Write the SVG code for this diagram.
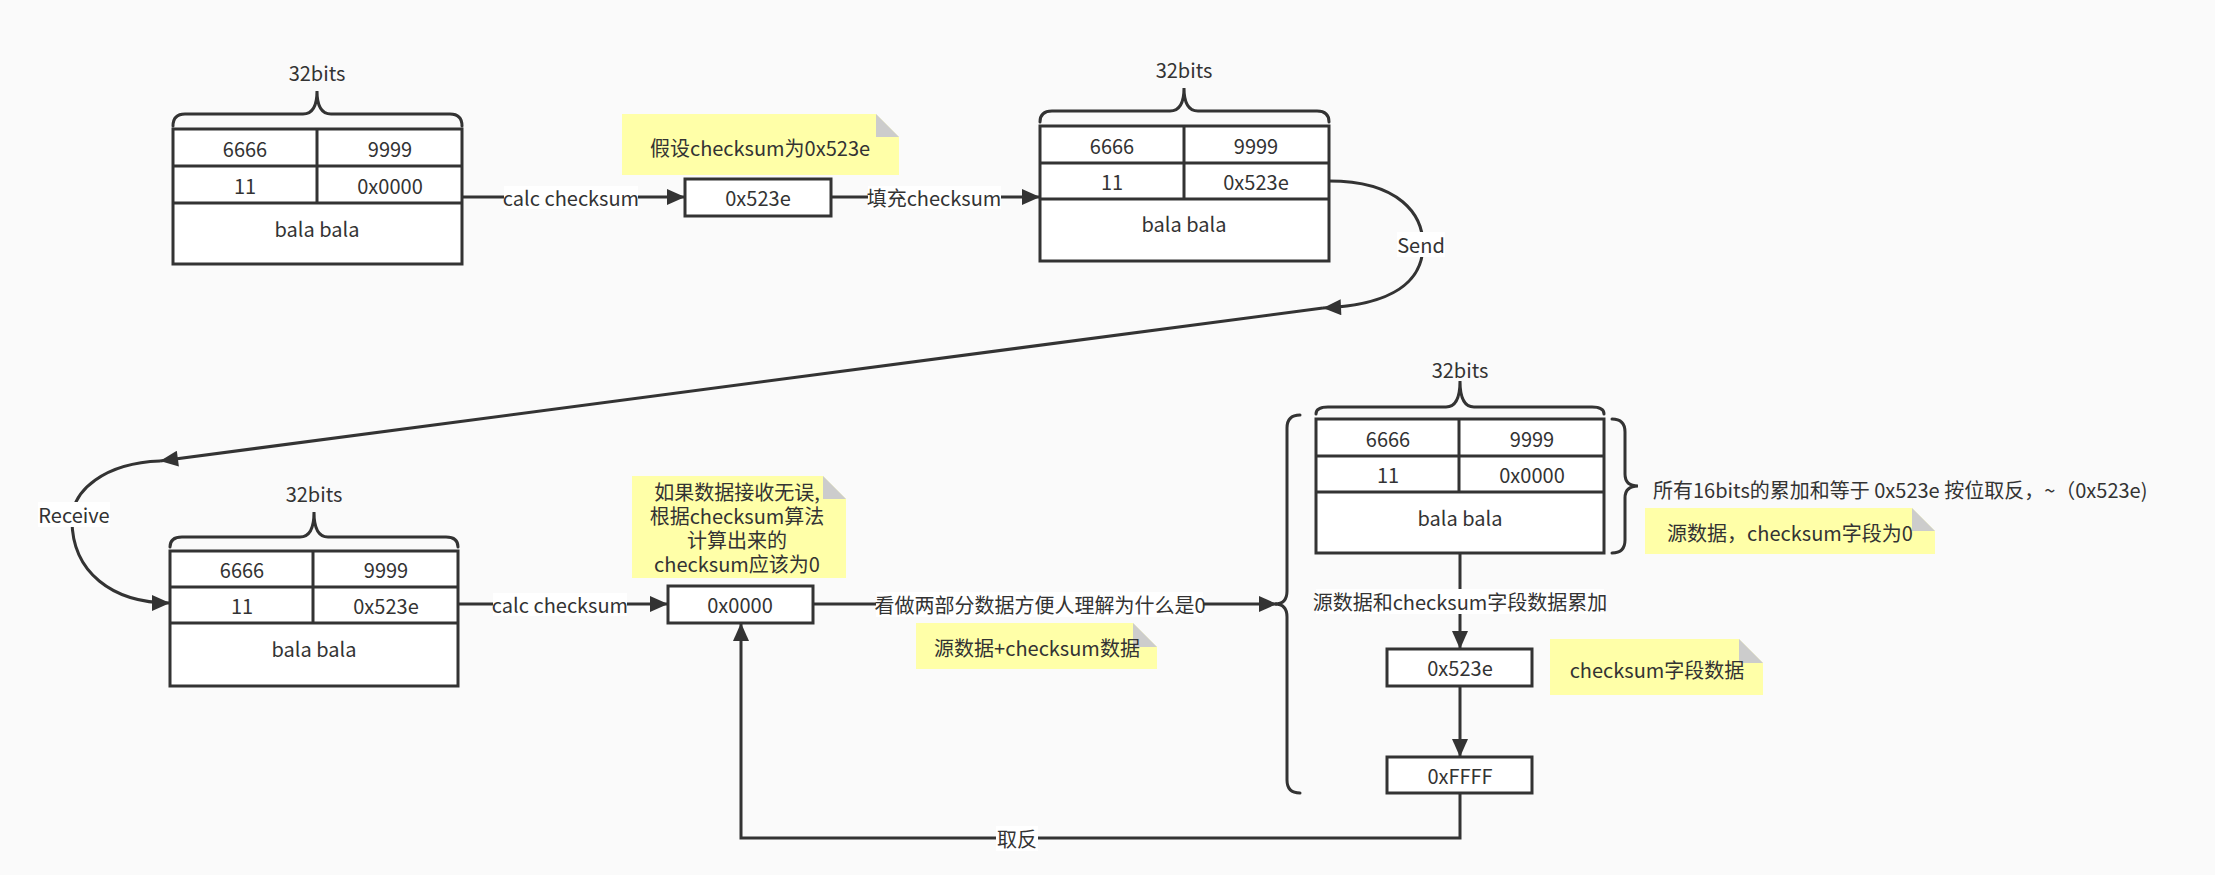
<svg xmlns="http://www.w3.org/2000/svg" width="2215" height="875" viewBox="0 0 2215 875">
<defs>
<style>
text{font-family:"Noto Sans CJK SC","Noto Sans",sans-serif;font-size:20px;fill:#333;dominant-baseline:central;text-anchor:middle}
.cell{fill:#fff;stroke:#333;stroke-width:3}
.ln{fill:none;stroke:#333;stroke-width:3}
.arr{fill:none;stroke:#333;stroke-width:3;marker-end:url(#ah)}
.brace{fill:none;stroke:#333;stroke-width:3;stroke-linecap:round}
.note{fill:#FFFFA8}
.fold{fill:#CCCCCC}
.lbl{fill:#FFFFFF}
.lt{text-anchor:start}
</style>
<marker id="ah" markerUnits="userSpaceOnUse" markerWidth="20" markerHeight="16" viewBox="0 0 18 16" refX="18" refY="8" orient="auto">
<path d="M0,0 L18,8 L0,16 Z" fill="#333"/>
</marker>
</defs>
<rect x="0" y="0" width="2215" height="875" fill="#FAFAFA"/>

<g id="connectors">
<path class="arr" d="M462,197 L685,197"/>
<rect class="lbl" x="504" y="186" width="134" height="23"/>
<text x="571" y="197">calc checksum</text>

<path class="arr" d="M831,197 L1040,197"/>
<rect class="lbl" x="868" y="186" width="133" height="23"/>
<text x="934" y="197">填充checksum</text>

<path class="arr" d="M1329,181 C1400,181 1423,215 1423,245 C1423,282 1392,305 1323,308"/>
<rect class="lbl" x="1397" y="232" width="48" height="25"/>
<text x="1421" y="244">Send</text>

<path class="arr" d="M1323,308 L160,461"/>

<path class="arr" d="M160,461 C105,463 72,490 72,520 C72,572 112,603 170,603"/>
<rect class="lbl" x="38" y="502" width="72" height="25"/>
<text x="74" y="514">Receive</text>

<path class="arr" d="M458,604 L668,604"/>
<rect class="lbl" x="493" y="593" width="134" height="23"/>
<text x="560" y="604">calc checksum</text>

<path class="arr" d="M813,604 L1277,604"/>
<rect class="lbl" x="876" y="592" width="327" height="25"/>
<text x="1040" y="604">看做两部分数据方便人理解为什么是0</text>

<path class="arr" d="M1460,553 L1460,649"/>
<rect class="lbl" x="1316" y="589" width="288" height="25"/>
<text x="1460" y="601">源数据和checksum字段数据累加</text>

<path class="arr" d="M1460,686 L1460,757"/>

<path class="arr" d="M1460,793 L1460,838 L741,838 L741,623"/>
<rect class="lbl" x="996" y="826" width="42" height="25"/>
<text x="1017" y="838">取反</text>
</g>

<g id="table1">
<rect class="cell" x="173" y="129" width="289" height="135"/>
<path class="ln" d="M173,166 L462,166 M173,203 L462,203 M317,129 L317,203"/>
<text x="245" y="148">6666</text>
<text x="390" y="148">9999</text>
<text x="245" y="185">11</text>
<text x="390" y="185">0x0000</text>
<text x="317" y="228">bala bala</text>
<path class="brace" d="M173,126 Q173,114 185,114 L303,114 Q317,114 317,91 Q317,114 331,114 L450,114 Q462,114 462,126"/>
<text x="317" y="72">32bits</text>
</g>

<g id="note1">
<path class="note" d="M622,114 L876,114 L899,137 L899,175 L622,175 Z"/>
<path class="fold" d="M876,114 L876,137 L899,137 Z"/>
<text x="760" y="147">假设checksum为0x523e</text>
</g>

<g id="box1">
<rect class="cell" x="685" y="179" width="146" height="37"/>
<text x="758" y="197">0x523e</text>
</g>

<g id="table2">
<rect class="cell" x="1040" y="126" width="289" height="135"/>
<path class="ln" d="M1040,163 L1329,163 M1040,199 L1329,199 M1184,126 L1184,199"/>
<text x="1112" y="145">6666</text>
<text x="1256" y="145">9999</text>
<text x="1112" y="181">11</text>
<text x="1256" y="181">0x523e</text>
<text x="1184" y="223">bala bala</text>
<path class="brace" d="M1040,122 Q1040,111 1052,111 L1170,111 Q1184,111 1184,88 Q1184,111 1198,111 L1317,111 Q1329,111 1329,122"/>
<text x="1184" y="69">32bits</text>
</g>

<g id="table3">
<rect class="cell" x="170" y="551" width="288" height="135"/>
<path class="ln" d="M170,587 L458,587 M170,623 L458,623 M313,551 L313,623"/>
<text x="242" y="569">6666</text>
<text x="386" y="569">9999</text>
<text x="242" y="605">11</text>
<text x="386" y="605">0x523e</text>
<text x="314" y="648">bala bala</text>
<path class="brace" d="M170,547 Q170,537 182,537 L300,537 Q314,537 314,512 Q314,537 328,537 L446,537 Q458,537 458,547"/>
<text x="314" y="493">32bits</text>
</g>

<g id="note2">
<path class="note" d="M632,476 L823,476 L846,499 L846,578 L632,578 Z"/>
<path class="fold" d="M823,476 L823,499 L846,499 Z"/>
<text x="737" y="491"><tspan x="737" y="491">如果数据接收无误,</tspan><tspan x="737" y="515">根据checksum算法</tspan><tspan x="737" y="539">计算出来的</tspan><tspan x="737" y="563">checksum应该为0</tspan></text>
</g>

<g id="box2">
<rect class="cell" x="668" y="586" width="145" height="37"/>
<text x="740" y="604">0x0000</text>
</g>

<g id="note3">
<path class="note" d="M916,623 L1133,623 L1157,647 L1157,669 L916,669 Z"/>
<path class="fold" d="M1133,623 L1133,647 L1157,647 Z"/>
<text x="1037" y="647">源数据+checksum数据</text>
</g>

<g id="braceLeft">
<path class="brace" d="M1300,415 Q1287,415 1287,428 L1287,591 Q1287,604 1275,604 Q1287,604 1287,617 L1287,780 Q1287,793 1300,793"/>
</g>

<g id="table4">
<rect class="cell" x="1316" y="419" width="288" height="134"/>
<path class="ln" d="M1316,456 L1604,456 M1316,492 L1604,492 M1459,419 L1459,492"/>
<text x="1388" y="438">6666</text>
<text x="1532" y="438">9999</text>
<text x="1388" y="474">11</text>
<text x="1532" y="474">0x0000</text>
<text x="1460" y="517">bala bala</text>
<path class="brace" d="M1316,414 Q1316,407 1328,407 L1446,407 Q1460,407 1460,381 Q1460,407 1474,407 L1592,407 Q1604,407 1604,414"/>
<text x="1460" y="369">32bits</text>
</g>

<g id="braceRight">
<path class="brace" d="M1612,419 Q1625,419 1625,432 L1625,474 Q1625,486 1638,486 Q1625,486 1625,498 L1625,540 Q1625,553 1612,553"/>
<text class="lt" x="1653" y="489">所有16bits的累加和等于 0x523e 按位取反，~（0x523e)</text>
</g>

<g id="note4">
<path class="note" d="M1645,508 L1912,508 L1935,531 L1935,554 L1645,554 Z"/>
<path class="fold" d="M1912,508 L1912,531 L1935,531 Z"/>
<text x="1790" y="532">源数据，checksum字段为0</text>
</g>

<g id="box3">
<rect class="cell" x="1387" y="649" width="145" height="37"/>
<text x="1460" y="667">0x523e</text>
</g>

<g id="note5">
<path class="note" d="M1550,639 L1739,639 L1763,663 L1763,695 L1550,695 Z"/>
<path class="fold" d="M1739,639 L1739,663 L1763,663 Z"/>
<text x="1657" y="669">checksum字段数据</text>
</g>

<g id="box4">
<rect class="cell" x="1387" y="757" width="145" height="36"/>
<text x="1460" y="775">0xFFFF</text>
</g>
</svg>
